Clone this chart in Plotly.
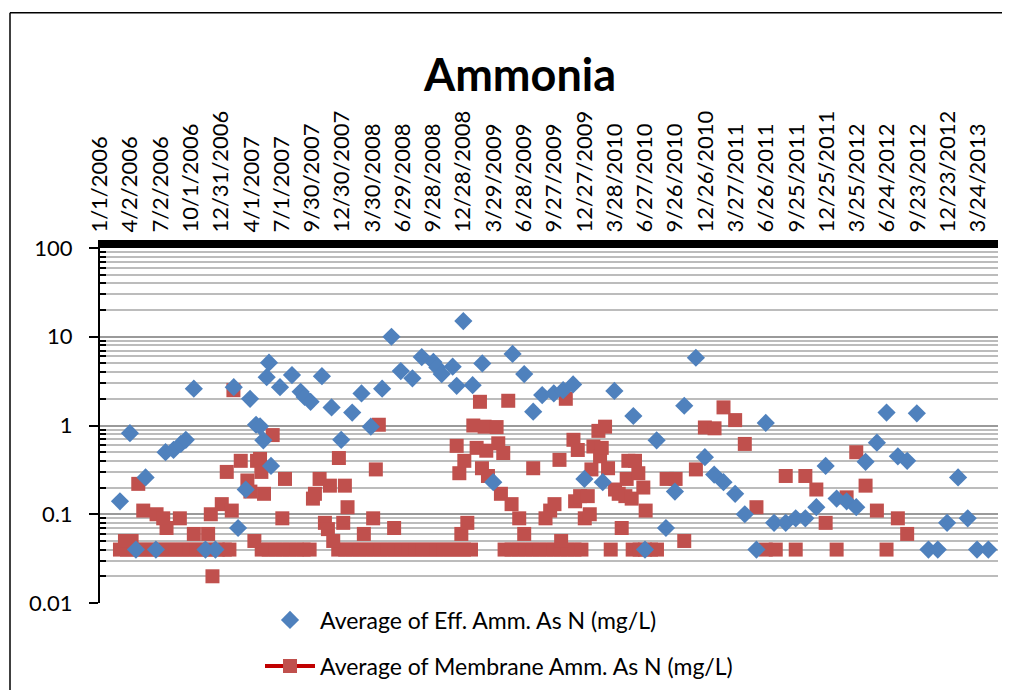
import plotly.graph_objects as go

# ---------------- data ----------------
tick_dates = ['2006-01-01', '2006-04-02', '2006-07-02', '2006-10-01', '2006-12-31',
              '2007-04-01', '2007-07-01', '2007-09-30', '2007-12-30', '2008-03-30',
              '2008-06-29', '2008-09-28', '2008-12-28', '2009-03-29', '2009-06-28',
              '2009-09-27', '2009-12-27', '2010-03-28', '2010-06-27', '2010-09-26',
              '2010-12-26', '2011-03-27', '2011-06-26', '2011-09-25', '2011-12-25',
              '2012-03-25', '2012-06-24', '2012-09-23', '2012-12-23', '2013-03-24']
tick_labels = ['1/1/2006', '4/2/2006', '7/2/2006', '10/1/2006', '12/31/2006',
               '4/1/2007', '7/1/2007', '9/30/2007', '12/30/2007', '3/30/2008',
               '6/29/2008', '9/28/2008', '12/28/2008', '3/29/2009', '6/28/2009',
               '9/27/2009', '12/27/2009', '3/28/2010', '6/27/2010', '9/26/2010',
               '12/26/2010', '3/27/2011', '6/26/2011', '9/25/2011', '12/25/2011',
               '3/25/2012', '6/24/2012', '9/23/2012', '12/23/2012', '3/24/2013']

y_tick_vals = [0.01, 0.1, 1, 10, 100]
y_tick_text = ['0.01', '0.1', '1', '10', '100']

eff_name = 'Average of Eff. Amm. As N (mg/L)'
eff_dates = [
    '2006-03-02', '2006-04-01', '2006-04-19', '2006-05-18', '2006-06-18', '2006-07-17',
    '2006-08-10', '2006-09-01', '2006-09-16', '2006-10-10', '2006-11-14', '2006-12-14',
    '2007-02-07', '2007-02-20', '2007-03-15', '2007-03-28', '2007-04-15', '2007-04-27',
    '2007-05-07', '2007-05-17', '2007-05-24', '2007-05-30', '2007-06-26', '2007-08-01',
    '2007-08-27', '2007-09-08', '2007-09-26', '2007-10-30', '2007-11-28', '2007-12-27',
    '2008-01-29', '2008-02-26', '2008-03-25', '2008-04-28', '2008-05-26', '2008-06-23',
    '2008-07-28', '2008-08-25', '2008-09-29', '2008-10-11', '2008-10-24', '2008-11-26',
    '2008-12-08', '2008-12-28',
    '2009-01-25', '2009-02-23', '2009-03-28', '2009-05-25', '2009-06-29', '2009-07-26',
    '2009-08-22', '2009-09-26', '2009-10-24', '2009-11-23', '2009-12-27',
    '2010-02-20', '2010-03-27', '2010-05-23', '2010-06-27', '2010-08-01', '2010-08-29',
    '2010-09-25', '2010-10-23', '2010-11-27', '2010-12-24',
    '2011-01-21', '2011-02-18', '2011-03-25', '2011-04-23', '2011-05-28', '2011-06-25',
    '2011-07-20', '2011-08-24', '2011-09-23', '2011-10-22', '2011-11-24', '2011-12-22',
    '2012-01-24', '2012-02-23', '2012-03-23', '2012-04-20', '2012-05-24', '2012-06-22',
    '2012-07-26', '2012-08-23', '2012-09-21', '2012-10-26', '2012-11-23', '2012-12-21',
    '2013-01-23', '2013-02-21', '2013-03-21', '2013-04-24']
eff_vals = [
    0.14, 0.82, 0.04, 0.26, 0.04, 0.50, 0.53, 0.62, 0.69, 2.6, 0.04, 0.04,
    2.7, 0.07, 0.19, 2.0, 1.02, 0.98, 0.68, 3.5, 5.1, 0.35, 2.7, 3.7, 2.4, 2.1, 1.85, 3.6, 1.6, 0.69,
    1.4, 2.3, 0.97, 2.6, 10, 4.1, 3.4, 5.9, 5.2, 4.5, 3.8, 4.6, 2.8, 15,
    2.85, 5.0, 0.23, 6.4, 3.8, 1.43, 2.2, 2.3, 2.5, 2.9, 0.25,
    0.23, 2.45, 1.28, 0.04, 0.68, 0.07, 0.18, 1.67, 5.8, 0.44,
    0.28, 0.23, 0.17, 0.10, 0.04, 1.07, 0.08, 0.08, 0.09, 0.09, 0.12, 0.35,
    0.15, 0.14, 0.12, 0.39, 0.64, 1.4, 0.45, 0.40, 1.37, 0.04, 0.04, 0.08,
    0.26, 0.09, 0.04, 0.04]

mem_name = 'Average of Membrane Amm. As N (mg/L)'
mem_dates = [
    # detection-limit readings (0.04)
    '2006-03-02', '2006-03-23', '2006-04-13', '2006-05-04', '2006-05-25', '2006-06-15',
    '2006-07-06', '2006-07-27', '2006-08-17', '2006-09-07', '2006-09-28', '2006-10-19',
    '2006-11-09', '2006-11-28', '2006-12-21', '2007-01-11', '2007-01-25',
    '2007-05-02', '2007-05-23', '2007-06-13', '2007-07-04', '2007-07-25', '2007-08-15',
    '2007-09-05', '2007-09-23',
    '2007-12-18', '2008-01-08', '2008-01-29', '2008-02-19', '2008-03-11', '2008-04-01',
    '2008-04-22', '2008-05-13', '2008-06-03', '2008-06-24', '2008-07-15', '2008-08-05',
    '2008-08-26', '2008-09-16', '2008-10-07', '2008-10-28', '2008-11-18', '2008-12-09',
    '2008-12-30', '2009-01-20',
    '2009-05-01', '2009-05-22', '2009-06-12', '2009-07-03', '2009-07-24', '2009-08-14',
    '2009-09-04', '2009-09-25', '2009-10-16', '2009-11-06', '2009-11-27', '2009-12-18',
    '2010-03-16', '2010-05-21', '2010-06-11', '2010-06-27', '2010-07-15', '2010-08-02',
    '2011-06-25', '2011-07-25', '2011-09-23', '2012-01-24', '2012-06-22',
    # other readings
    '2006-03-17', '2006-04-06', '2006-04-26', '2006-05-11', '2006-06-20', '2006-07-10',
    '2006-07-20', '2006-08-29', '2006-10-10', '2006-11-22', '2006-11-30', '2006-12-05',
    '2007-01-02', '2007-01-17', '2007-02-01', '2007-02-06', '2007-02-28', '2007-03-20',
    '2007-03-29', '2007-04-10', '2007-04-18', '2007-04-27', '2007-05-01', '2007-05-09',
    '2007-06-04', '2007-07-03', '2007-07-11', '2007-10-03', '2007-10-09', '2007-10-23',
    '2007-11-08', '2007-11-17', '2007-11-23', '2007-12-03', '2007-12-20',
    '2008-01-02', '2008-01-07', '2008-01-15', '2008-03-04', '2008-04-01', '2008-04-09',
    '2008-04-18', '2008-06-03', '2008-12-08', '2008-12-16', '2008-12-22', '2008-12-31',
    '2009-01-09', '2009-01-27', '2009-02-06', '2009-02-16', '2009-02-22', '2009-03-02',
    '2009-03-07', '2009-03-12', '2009-04-07', '2009-04-12', '2009-04-20', '2009-04-27',
    '2009-05-12', '2009-05-22', '2009-06-14', '2009-06-29', '2009-07-26', '2009-09-01',
    '2009-09-15', '2009-09-28', '2009-10-13', '2009-10-18', '2009-11-01', '2009-11-24',
    '2009-11-29', '2009-12-07', '2009-12-14', '2009-12-28',
    '2010-01-06', '2010-01-12', '2010-01-17', '2010-01-23', '2010-02-07', '2010-02-12',
    '2010-02-17', '2010-02-27', '2010-03-08', '2010-03-29', '2010-04-09', '2010-04-18',
    '2010-04-29', '2010-05-03', '2010-05-08', '2010-05-18', '2010-05-28', '2010-06-07',
    '2010-06-22', '2010-06-29', '2010-08-31', '2010-09-27', '2010-10-23', '2010-11-27',
    '2010-12-24',
    '2011-01-22', '2011-02-18', '2011-03-25', '2011-04-23', '2011-05-28', '2011-08-24',
    '2011-10-22', '2011-11-24', '2011-12-22',
    '2012-02-23', '2012-03-23', '2012-04-20', '2012-05-24', '2012-07-26', '2012-08-23']
mem_vals = [
    0.04, 0.04, 0.04, 0.04, 0.04, 0.04, 0.04, 0.04, 0.04, 0.04, 0.04, 0.04,
    0.04, 0.04, 0.04, 0.04, 0.04,
    0.04, 0.04, 0.04, 0.04, 0.04, 0.04, 0.04, 0.04,
    0.04, 0.04, 0.04, 0.04, 0.04, 0.04, 0.04, 0.04, 0.04, 0.04, 0.04, 0.04,
    0.04, 0.04, 0.04, 0.04, 0.04, 0.04, 0.04, 0.04,
    0.04, 0.04, 0.04, 0.04, 0.04, 0.04, 0.04, 0.04, 0.04, 0.04, 0.04, 0.04,
    0.04, 0.04, 0.04, 0.04, 0.04, 0.04,
    0.04, 0.04, 0.04, 0.04, 0.04,
    0.05, 0.05, 0.22, 0.11, 0.10, 0.09,
    0.07, 0.09, 0.06, 0.06, 0.10, 0.02,
    0.13, 0.30, 0.11, 2.5, 0.40, 0.24,
    0.18, 0.05, 0.40, 0.42, 0.30, 0.17,
    0.78, 0.09, 0.25, 0.15, 0.17, 0.25,
    0.08, 0.068, 0.21, 0.05, 0.43,
    0.08, 0.21, 0.12, 0.06, 0.09, 0.32,
    1.02, 0.07, 0.59, 0.29, 0.06, 0.40,
    0.08, 1.0, 0.56, 1.85, 0.33, 0.97,
    0.52, 0.27, 0.96, 0.63, 0.17, 0.49,
    1.9, 0.13, 0.09, 0.06, 0.33, 0.09,
    0.11, 0.13, 0.41, 0.05, 2.0, 0.69,
    0.14, 0.53, 0.16, 0.09,
    0.16, 0.10, 0.32, 0.58, 0.87, 0.45,
    0.56, 0.97, 0.33, 0.19, 0.17, 0.07,
    0.16, 0.25, 0.40, 0.15, 0.40, 0.29,
    0.20, 0.11, 0.25, 0.25, 0.05, 0.32,
    0.95,
    0.93, 1.6, 1.15, 0.62, 0.12, 0.27,
    0.27, 0.19, 0.08,
    0.155, 0.50, 0.21, 0.11, 0.09, 0.06]

minor_vals = [0.02, 0.03, 0.04, 0.05, 0.06, 0.07, 0.08, 0.09,
              0.2, 0.3, 0.4, 0.5, 0.6, 0.7, 0.8, 0.9,
              2, 3, 4, 5, 6, 7, 8, 9,
              20, 30, 40, 50, 60, 70, 80, 90]

# ---------------- figure ----------------
FONT = 'Lato'
OFF = 8                      # page body margin of the browser
W, H = 1010 - 2 * OFF, 698 - 2 * OFF
ML, MR, MT, MB = 92, 4, 240, 86
PW, PH = W - ML - MR, H - MT - MB


def px_x(p):                 # p: x pixel in the screenshot
    return (p - OFF - ML) / PW


def px_y(p):                 # p: y pixel in the screenshot
    return (H - MB - (p - OFF)) / PH


fig = go.Figure()

fig.add_trace(go.Scatter(
    x=mem_dates, y=mem_vals, mode='markers', name=mem_name, showlegend=False,
    marker=dict(symbol='square', size=14, color='#C0504D', line=dict(width=0)),
))
fig.add_trace(go.Scatter(
    x=eff_dates, y=eff_vals, mode='markers', name=eff_name, legend='legend',
    marker=dict(symbol='diamond', size=14, color='#4F81BD', line=dict(width=0)),
))
# legend entry for the membrane series, drawn like the original (line + marker)
fig.add_trace(go.Scatter(
    x=[None], y=[None], mode='lines+markers', name=mem_name, legend='legend2',
    line=dict(color='#C00000', width=4),
    marker=dict(symbol='square', size=14, color='#C0504D', line=dict(width=0)),
))

fig.update_layout(
    width=W, height=H, autosize=False,
    margin=dict(l=ML, r=MR, t=MT, b=MB, pad=0),
    paper_bgcolor='white', plot_bgcolor='white',
    font=dict(family=FONT, size=22, color='black'),
    title=dict(text='<b>Ammonia</b>', xref='container', yref='container',
               x=(520 - OFF) / W, y=1 - (75 - OFF) / H, xanchor='center', yanchor='middle',
               font=dict(family=FONT, size=45, color='black')),
    xaxis=dict(
        type='date', side='top', range=['2006-01-01', '2013-05-23'],
        tickmode='array', tickvals=tick_dates, ticktext=tick_labels,
        tickangle=-90, tickfont=dict(family=FONT, size=22, color='black'),
        showgrid=False, zeroline=False, showline=True, linecolor='black',
        linewidth=8, ticks='', ticklabelstandoff=3,
    ),
    yaxis=dict(
        type='log', range=[-2, 2], tickmode='array', tickvals=y_tick_vals,
        ticktext=y_tick_text, tickfont=dict(family=FONT, size=22, color='black'),
        showline=True, linecolor='black', linewidth=2,
        ticks='outside', ticklen=9, tickwidth=2, tickcolor='black',
        ticklabelstandoff=12,
        showgrid=True, gridcolor='#9a9a9a', gridwidth=1.5, zeroline=False,
        minor=dict(tickmode='array', tickvals=minor_vals, ticks='inside',
                   ticklen=6, tickwidth=1.5, tickcolor='black',
                   showgrid=True, gridcolor='#bcbcbc', gridwidth=1.5),
    ),
    legend=dict(x=px_x(260), y=px_y(620), xanchor='left', yanchor='middle',
                bgcolor='rgba(0,0,0,0)', borderwidth=0, itemwidth=50,
                font=dict(family=FONT, size=23, color='black')),
    legend2=dict(x=px_x(260), y=px_y(666), xanchor='left', yanchor='middle',
                 bgcolor='rgba(0,0,0,0)', borderwidth=0, itemwidth=50,
                 font=dict(family=FONT, size=23, color='black')),
    shapes=[
        dict(type='line', xref='paper', yref='paper',
             x0=px_x(10), x1=px_x(10), y0=px_y(698), y1=px_y(12),
             line=dict(color='black', width=1.5), layer='above'),
        dict(type='line', xref='paper', yref='paper',
             x0=px_x(10), x1=px_x(1002), y0=px_y(12), y1=px_y(12),
             line=dict(color='black', width=1.5), layer='above'),
    ],
)

fig.write_html('out.html')
